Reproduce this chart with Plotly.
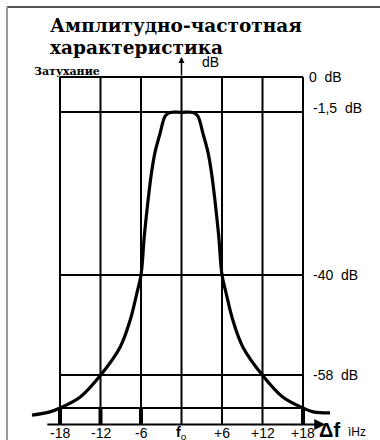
import numpy as np
import plotly.graph_objects as go

# ---------------- data ----------------
# frequency offset (kHz) of the curve points, attenuation (dB)
freq = [-22.15, -19.5, -18.0, -15.0, -12.1, -9.1, -7.6, -6.6, -6.0, -5.5, -4.95,
        -4.45, -3.95, -3.2, -2.4, -1.7, 0.0, 1.7, 2.4, 3.2, 3.95, 4.45, 4.95, 5.5, 6.0,
        6.6, 7.6, 9.1, 12.1, 15.0, 18.0, 19.5, 22.0]
atten = [-65.3, -64.7, -64.0, -62.0, -58.2, -53.0, -48.1, -43.2, -40.0, -30.6, -22.3,
         -15.9, -11.2, -6.7, -2.4, -1.6, -1.6, -1.6, -2.4, -6.7, -11.2, -15.9, -22.3, -30.6, -40.0,
         -43.2, -48.1, -53.0, -58.2, -62.0, -64.0, -64.7, -64.9]

x_ticks = [-18, -12, -6, 0, 6, 12, 18]
x_tick_labels = ["-18", "-12", "-6", "<b>f</b><sub>o</sub>", "+6", "+12", "+18"]
db_levels = [0, -1.5, -40, -58]
db_labels = ["0 dB", "-1,5 dB", "-40 dB", "-58 dB"]
bottom_level = -64  # unlabeled bottom grid line

title_lines = ["Амплитудно-частотная", "характеристика"]
y_title = "Затухание"

# ---------------- schematic (non-linear) vertical scale ----------------
_anch_db = [-64, -58, -40, -1.5, 0]
_anch_pos = [-331, -298, -198, -35, 0]


def ypos(db):
    db = np.asarray(db, dtype=float)
    out = np.interp(db, _anch_db, _anch_pos)
    below = db < -64
    out = np.where(below, -331 + (db + 64) * 5.5, out)
    return out


W, H = 380, 440
x_range = [-18 - 60 / 6.75, -18 + (W - 60) / 6.75]
y_range = [77 - H, 77]

fig = go.Figure()

LINE = "#000000"
axis_level = -67

# vertical grid lines
for xv in x_ticks:
    fig.add_trace(go.Scatter(x=[xv, xv], y=ypos([0, axis_level]).tolist(), mode="lines",
                             line=dict(color=LINE, width=2), hoverinfo="skip", showlegend=False))
# thicker tick stubs
for xv in [-18, -12, -6, 18]:
    fig.add_trace(go.Scatter(x=[xv, xv], y=ypos([bottom_level, axis_level]).tolist(), mode="lines",
                             line=dict(color=LINE, width=4), hoverinfo="skip", showlegend=False))
# horizontal grid lines
for lv in db_levels + [bottom_level]:
    yy = float(ypos(lv))
    fig.add_trace(go.Scatter(x=[x_ticks[0], x_ticks[-1]], y=[yy, yy], mode="lines",
                             line=dict(color=LINE, width=2), hoverinfo="skip", showlegend=False))

# response curve
fig.add_trace(go.Scatter(x=freq, y=ypos(atten).tolist(), mode="lines",
                         line=dict(color=LINE, width=3.2, shape="spline", smoothing=1.0),
                         hoverinfo="skip", showlegend=False))

# bottom frequency axis line with arrow
ax_y = float(ypos(axis_level))
fig.add_annotation(x=21.3, y=ax_y, ax=-20.1, ay=ax_y, xref="x", yref="y", axref="x", ayref="y",
                   showarrow=True, arrowhead=2, arrowsize=1, arrowwidth=2.2, arrowcolor=LINE, text="")
# vertical dB arrow above centre
fig.add_annotation(x=0, y=20, ax=0, ay=0, xref="x", yref="y", axref="x", ayref="y",
                   showarrow=True, arrowhead=2, arrowsize=0.8, arrowwidth=1.5, arrowcolor=LINE, text="")

SANS = "Liberation Sans, Arial, sans-serif"
SERIF = "DejaVu Serif, Liberation Serif, serif"

fig.add_annotation(x=2.7, y=15, xref="x", yref="y", text="dB", showarrow=False,
                   xanchor="left", yanchor="middle", font=dict(family=SANS, size=14, color=LINE))

# level labels on right
label_off = [0, 4, 0, 0]
for lv, lab, off in zip(db_levels, db_labels, label_off):
    fig.add_annotation(x=18.6 if lv == 0 else 19.2, y=float(ypos(lv)) + off, xref="x", yref="y",
                       text=lab.replace(" ", "\u00a0\u00a0"), showarrow=False,
                       xanchor="left", yanchor="middle", font=dict(family=SANS, size=14, color=LINE))

# bottom tick labels
for xv, lab in zip(x_ticks, x_tick_labels):
    fig.add_annotation(x=xv, y=(H - 433) / H, xref="x", yref="paper", text=lab, showarrow=False,
                       xanchor="center", yanchor="middle", font=dict(family=SANS, size=14, color=LINE))
fig.add_annotation(x=317 / W, y=(H - 430) / H, xref="paper", yref="paper",
                   text="<b>\u0394f</b>", showarrow=False, xanchor="left", yanchor="middle",
                   font=dict(family=SANS, size=20, color=LINE))
fig.add_annotation(x=346 / W, y=(H - 432) / H, xref="paper", yref="paper",
                   text="ìHz", showarrow=False, xanchor="left", yanchor="middle",
                   font=dict(family=SANS, size=12, color=LINE))

# titles
fig.add_annotation(x=48 / W, y=(H - 26) / H, xref="paper", yref="paper", text="<b>" + title_lines[0] + "</b>",
                   showarrow=False, xanchor="left", yanchor="middle", font=dict(family=SERIF, size=18.5, color=LINE))
fig.add_annotation(x=48 / W, y=(H - 47) / H, xref="paper", yref="paper", text="<b>" + title_lines[1] + "</b>",
                   showarrow=False, xanchor="left", yanchor="middle", font=dict(family=SERIF, size=18.5, color=LINE))
fig.add_annotation(x=32 / W, y=(H - 71) / H, xref="paper", yref="paper", text="<b>" + y_title + "</b>",
                   showarrow=False, xanchor="left", yanchor="middle", font=dict(family=SERIF, size=11, color=LINE))

# outer frame (top and left edges)
fig.add_shape(type="line", xref="paper", yref="paper", x0=7 / W, x1=1, y0=(H - 7) / H, y1=(H - 7) / H,
              line=dict(color="#555555", width=2))
fig.add_shape(type="line", xref="paper", yref="paper", x0=7 / W, x1=7 / W, y0=0, y1=(H - 7) / H,
              line=dict(color="#999999", width=2))

fig.update_layout(
    width=W, height=H, margin=dict(l=0, r=0, t=0, b=0),
    paper_bgcolor="white", plot_bgcolor="white",
    xaxis=dict(range=x_range, visible=False, fixedrange=True),
    yaxis=dict(range=y_range, visible=False, fixedrange=True),
)

fig.write_html("out.html", config={"displayModeBar": False},
               post_script="document.body.style.margin='0';document.body.style.overflow='hidden';")
